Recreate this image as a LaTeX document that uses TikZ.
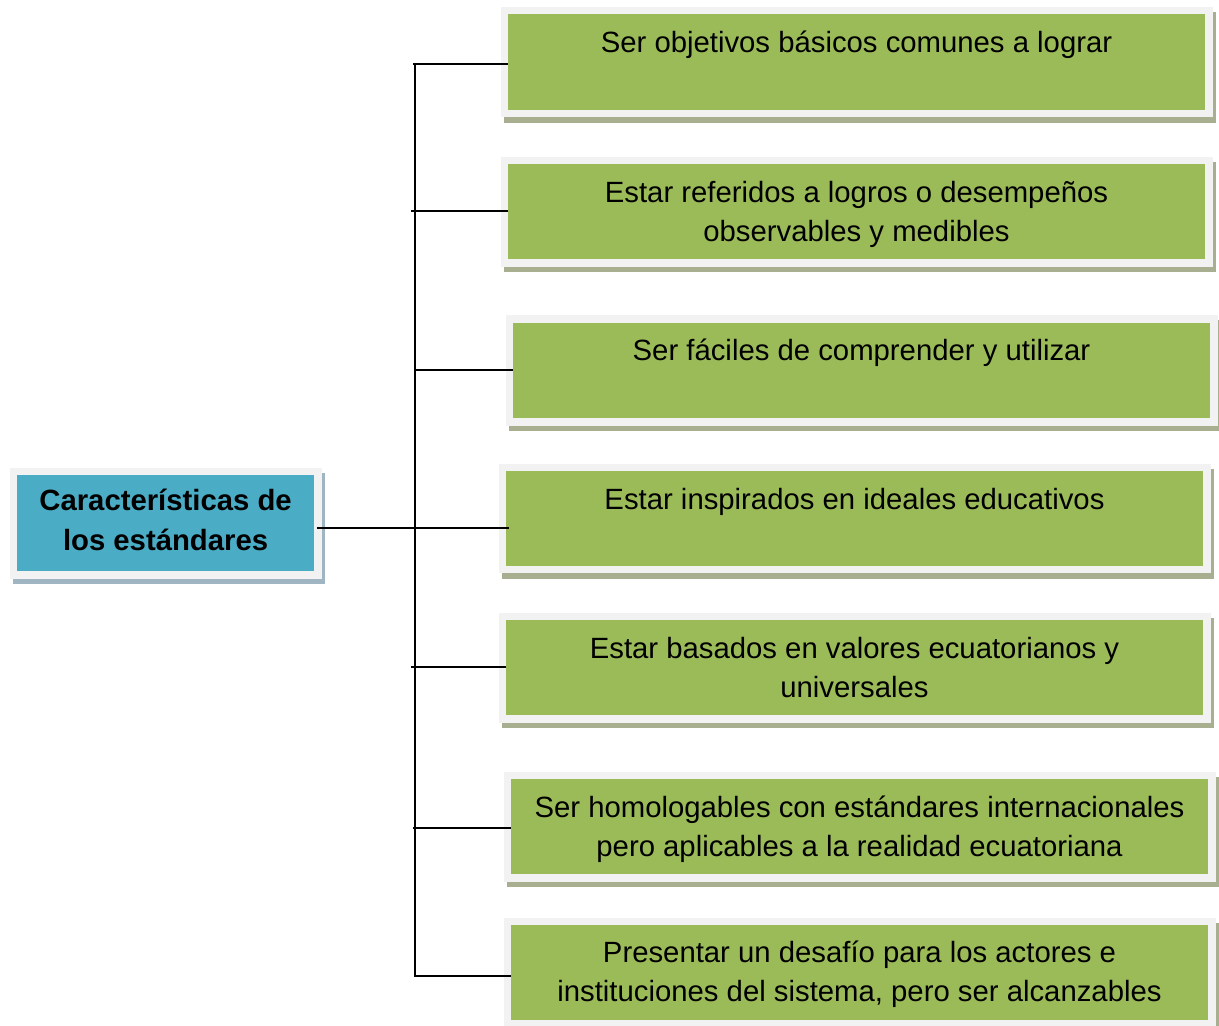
\documentclass[tikz,border=0pt]{standalone}
\usepackage{fontspec}
\setmainfont{Liberation Sans}
\usetikzlibrary{fit}
\definecolor{gfill}{HTML}{9BBB59}
\definecolor{bfill}{HTML}{4BACC6}
\definecolor{framec}{HTML}{F2F2F2}
\definecolor{gshad}{HTML}{A7AF90}
\definecolor{bshad}{HTML}{9FB5C2}
% #1 name, #2 left, #3 top, #4 right, #5 bottom (inner), #6 fill, #7 shadow
\newcommand\featbox[7]{%
  \fill[#7] ({#2-4.5},{#3-2.5}) rectangle ({#4+11},{#5+13});
  \fill[framec] ({#2-7.5},{#3-7.5}) rectangle ({#4+8},{#5+7.5});
  \node[fit={(#2,#3) (#4,#5)}, inner sep=0pt, outer sep=0pt, fill=#6] (#1) {};
}
\tikzset{
  gtext/.style={font=\fontsize{29.3}{39}\selectfont, align=center, inner sep=0pt, anchor=base},
  ctext/.style={font=\fontsize{29.3}{40.5}\selectfont\bfseries, align=center, inner sep=0pt, anchor=base},
  conn/.style={draw=black, line width=2pt}
}
\begin{document}
\begin{tikzpicture}[x=1pt,y=-1pt]
\useasboundingbox (0,0) rectangle (1219,1026);
\featbox{c}{17}{475}{314}{571}{bfill}{bshad}
\featbox{b1}{508}{14}{1205}{109.5}{gfill}{gshad}
\featbox{b2}{508}{164}{1205}{259}{gfill}{gshad}
\featbox{b3}{513}{322.5}{1210}{418}{gfill}{gshad}
\featbox{b4}{506}{471}{1203}{565.5}{gfill}{gshad}
\featbox{b5}{506}{620}{1203}{715}{gfill}{gshad}
\featbox{b6}{511}{779}{1208}{874}{gfill}{gshad}
\featbox{b7}{511}{925}{1208}{1019.5}{gfill}{gshad}

% anchor=base is the baseline of the last line
\node[ctext] (ct) at (165.6,550.5) {Características de\\los estándares};
\node[gtext] (t1) at (856.5,52.3) {Ser objetivos básicos comunes a lograr};
\node[gtext] (t2) at (856.5,241.3) {Estar referidos a logros o desempeños\\observables y medibles};
\node[gtext] (t3) at (861.5,360.5) {Ser fáciles de comprender y utilizar};
\node[gtext] (t4) at (854.5,509) {Estar inspirados en ideales educativos};
\node[gtext] (t5) at (854.5,697) {Estar basados en valores ecuatorianos y\\universales};
\node[gtext] (t6) at (859.5,856) {Ser homologables con estándares internacionales\\pero aplicables a la realidad ecuatoriana};
\node[gtext] (t7) at (859.5,1001.5) {Presentar un desafío para los actores e\\instituciones del sistema, pero ser alcanzables};

% connectors
\coordinate (top) at (415,64);
\coordinate (bot) at (415,976);
\coordinate (j1) at (413,64);
\coordinate (j2) at (411,211);
\coordinate (j3) at (415,370);
\coordinate (j4) at (415,528);
\coordinate (j5) at (411,666.5);
\coordinate (j6) at (413,827.5);
\coordinate (j7) at (414,976);
\coordinate (cs) at (317,528);
\draw[conn] (top) -- (bot);
\draw[conn] (j1) -- (b1.west |- j1);
\draw[conn] (j2) -- (b2.west |- j2);
\draw[conn] (j3) -- (b3.west |- j3);
\draw[conn] (cs) -- ([xshift=3pt]b4.west |- j4);
\draw[conn] (j5) -- (b5.west |- j5);
\draw[conn] (j6) -- (b6.west |- j6);
\draw[conn] (j7) -- (b7.west |- j7);
\end{tikzpicture}
\end{document}
